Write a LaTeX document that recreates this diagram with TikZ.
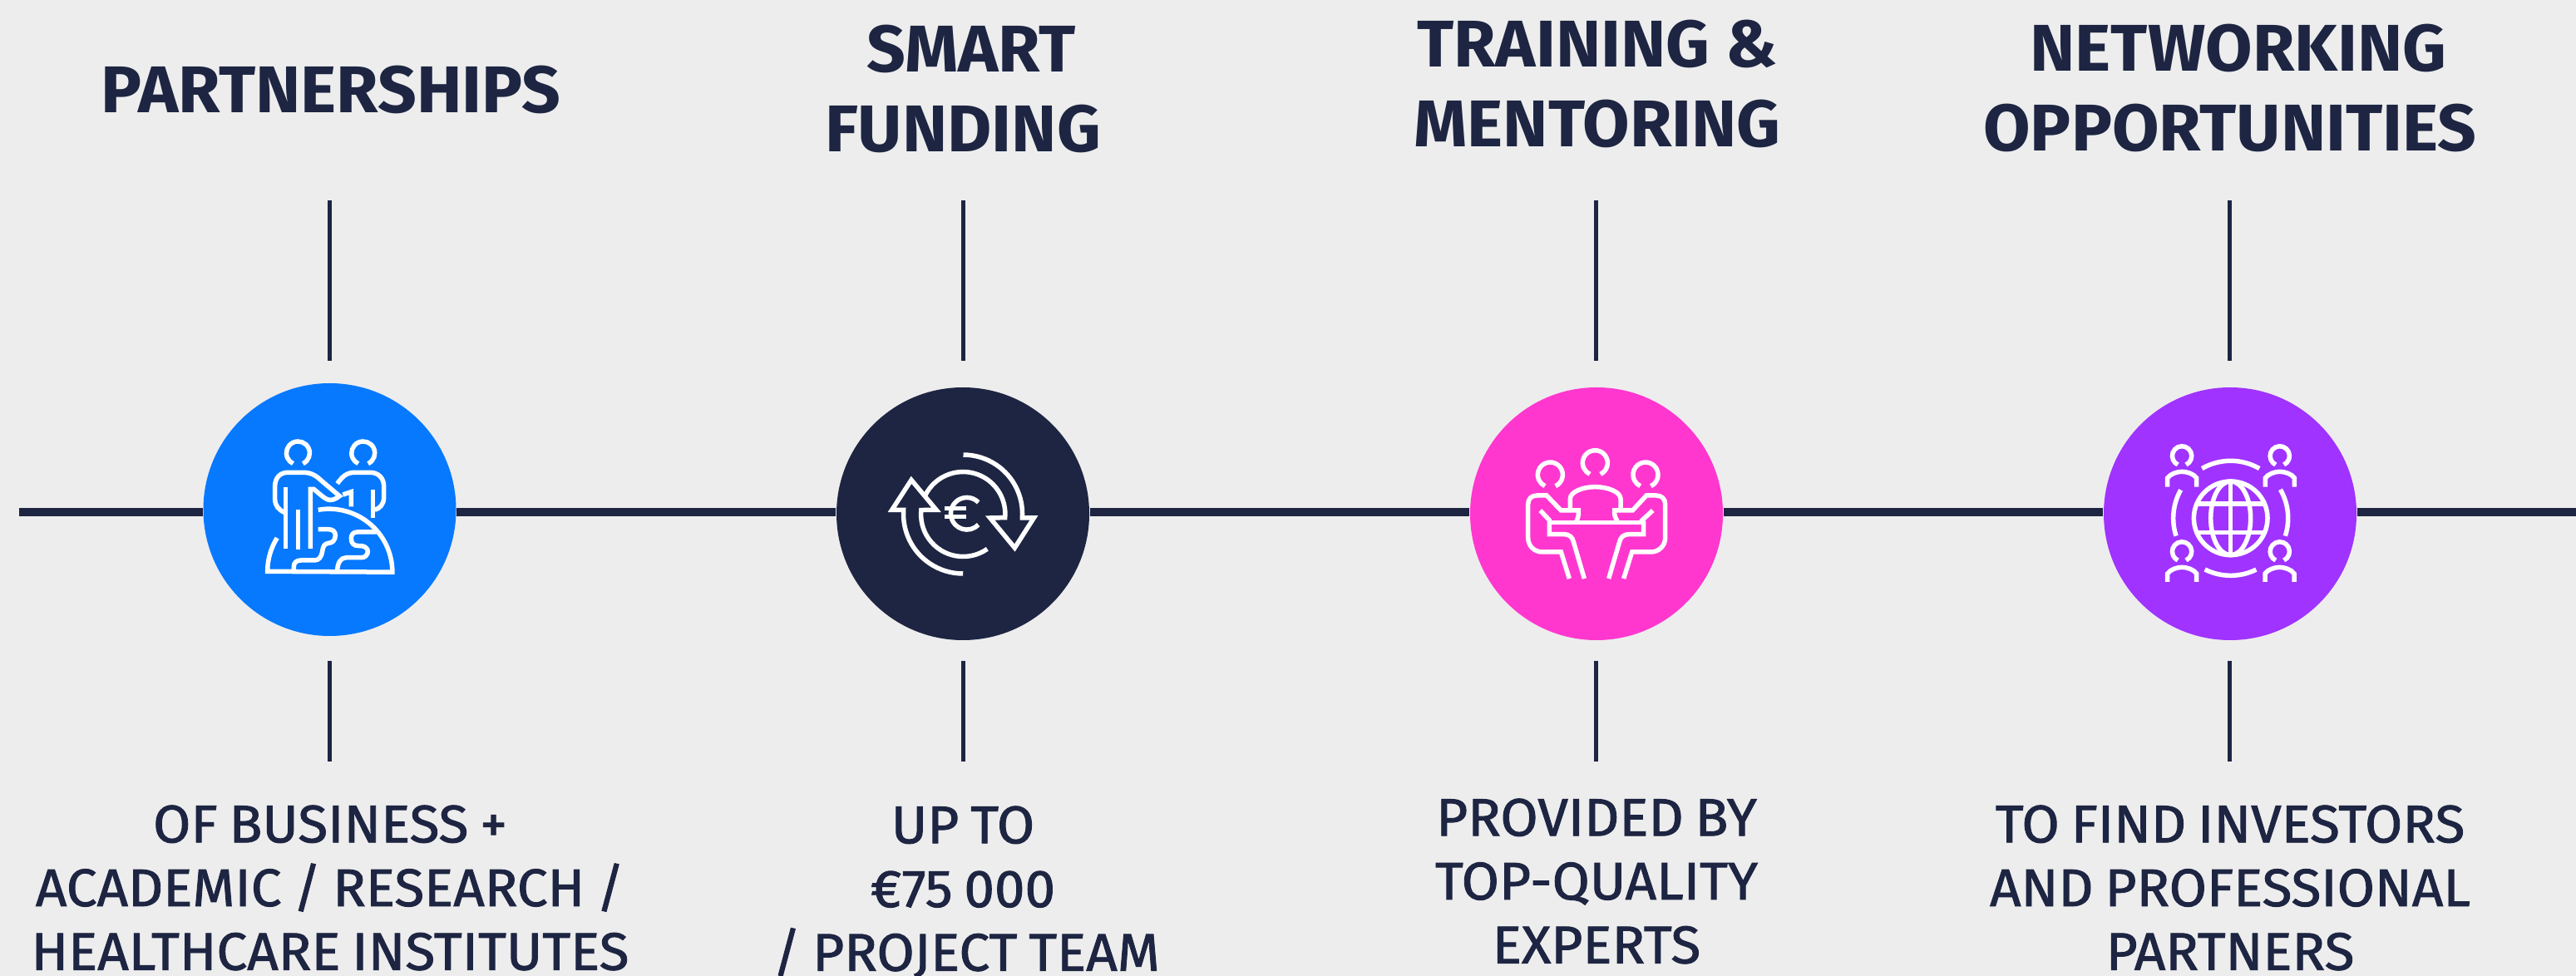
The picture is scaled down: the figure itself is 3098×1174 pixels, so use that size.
\documentclass[tikz,border=0pt]{standalone}
\usepackage{fontspec}
\newfontfamily\headfont[FakeStretch=1.03]{Fira Sans Bold}
\newfontfamily\bodyfont[FakeStretch=1.03,FakeBold=1.4,WordSpace=0.8]{Fira Sans}
\definecolor{inkblue}{HTML}{1D2542}
\definecolor{paper}{HTML}{EDEDED}
\definecolor{roundblue}{HTML}{0779FF}
\definecolor{roundpink}{HTML}{FF37CF}
\definecolor{roundviolet}{HTML}{A033FF}
\tikzset{
  round/.style={circle,minimum size=304*0.01cm,inner sep=0pt,fill=#1},
  spine/.style={draw=inkblue,line width=0.095cm},
  tick/.style={draw=inkblue,line width=0.05cm},
  headline/.style={text=inkblue,inner sep=0pt,align=center,font=\headfont\fontsize{22.6pt}{27.2pt}\selectfont},
  bodyline/.style={text=inkblue,inner sep=0pt,align=center,font=\bodyfont\fontsize{18.1pt}{21.8pt}\selectfont},
  glyph/.style={draw=white,line width=0.055cm},
  zoomed/.style={shift={#1},x=0.01cm/3,y=-0.01cm/3}
}
\begin{document}
\begin{tikzpicture}[x=0.01cm,y=-0.01cm]

\fill[paper] (0,0) rectangle (3098,1174);
\useasboundingbox (0,0) rectangle (3098,1174);

% circles
\node[round=roundblue] (round1) at (396.5,613) {};
\node[round=inkblue] (round2) at (1158,618) {};
\node[round=roundpink] (round3) at (1920,618) {};
\node[round=roundviolet] (round4) at (2682,618) {};

% spine
\coordinate (spinestart) at (23,616);
\coordinate (spineend) at (3098,616);
\draw[spine] (spinestart) -- (spinestart -| round1.west);
\draw[spine] (round1.east |- spinestart) -- (spinestart -| round2.west);
\draw[spine] (round2.east |- spinestart) -- (spinestart -| round3.west);
\draw[spine] (round3.east |- spinestart) -- (spinestart -| round4.west);
\draw[spine] (round4.east |- spinestart) -- (spineend);

% ticks
\coordinate (up1a) at (396.5,241);
\coordinate (up1b) at (396.5,434);
\coordinate (up2a) at (1158,241);
\coordinate (up2b) at (1158,434);
\coordinate (up3a) at (1919,241);
\coordinate (up3b) at (1919,434);
\coordinate (up4a) at (2681,241);
\coordinate (up4b) at (2681,434);
\coordinate (down1a) at (396.5,795);
\coordinate (down1b) at (396.5,916);
\coordinate (down2a) at (1158,795);
\coordinate (down2b) at (1158,916);
\coordinate (down3a) at (1919,795);
\coordinate (down3b) at (1919,916);
\coordinate (down4a) at (2681,795);
\coordinate (down4b) at (2681,916);
\draw[tick] (up1a) -- (up1b);
\draw[tick] (up2a) -- (up2b);
\draw[tick] (up3a) -- (up3b);
\draw[tick] (up4a) -- (up4b);
\draw[tick] (down1a) -- (down1b);
\draw[tick] (down2a) -- (down2b);
\draw[tick] (down3a) -- (down3b);
\draw[tick] (down4a) -- (down4b);

% top texts
\node[headline] (head1) at (398,108) {PARTNERSHIPS};
\node[headline] (head2) at (1158,107) {\hspace*{0.2cm}SMART\\FUNDING};
\node[headline] (head3) at (1921,101) {TRAINING \&\\MENTORING};
\node[headline] (head4) at (2682,106) {\hspace*{0.2cm}NETWORKING\\OPPORTUNITIES};

% bottom texts
\node[bodyline] (body1) at (397,1068) {OF BUSINESS +\\ACADEMIC / RESEARCH /\\HEALTHCARE INSTITUTES};
\node[bodyline] (body2) at (1158,1073) {UP TO\\€75 000\\\hspace*{0.08cm}/ PROJECT TEAM};
\node[bodyline] (body3) at (1920,1060) {PROVIDED BY\\TOP-QUALITY\\EXPERTS};
\node[bodyline] (body4) at (2682,1068) {TO FIND INVESTORS\\AND PROFESSIONAL\\PARTNERS};

% partners icon
\begin{scope}[zoomed={(240,450)}]
\draw[glyph] (373,323) arc (65:-245:42);
\draw[glyph] (608,323) arc (65:-245:42);
\draw[glyph] (308,500) .. controls (285,490) and (272,475) .. (272,450) -- (272,405) .. controls (272,375) and (290,355) .. (318,355) -- (375,355) .. controls (405,355) and (425,370) .. (440,385) -- (505,440) .. controls (490,452) and (475,458) .. (460,452) .. controls (445,445) and (425,425) .. (412,415) -- (400,415) -- (400,630);
\draw[glyph] (310,407) -- (310,630);
\draw[glyph] (355,490) -- (355,632);
\draw[glyph] (497,395) .. controls (515,370) and (530,355) .. (560,355) -- (615,355) .. controls (645,355) and (665,375) .. (665,405) -- (665,445) .. controls (665,470) and (650,485) .. (632,490);
\draw[glyph] (625,417) -- (625,520);
\draw[glyph] (517,435) -- (547,425) -- (547,478);
\draw[glyph] (428,490) arc (-100:0:228) -- (245,712) arc (180:212:228);
\draw[glyph] (428,560) -- (465,560) .. controls (482,560) and (490,570) .. (490,582) .. controls (490,600) and (478,610) .. (465,610) .. controls (450,612) and (445,622) .. (443,640) .. controls (440,660) and (430,672) .. (415,672) -- (365,672) .. controls (348,672) and (340,682) .. (340,695) -- (340,712);
\draw[glyph] (638,570) -- (568,570) .. controls (555,570) and (547,580) .. (547,592) .. controls (547,610) and (555,620) .. (575,620) -- (585,620) .. controls (600,622) and (607,632) .. (607,640) .. controls (607,652) and (597,662) .. (585,662) -- (530,662) .. controls (510,662) and (497,680) .. (497,712);
\end{scope}

% euro icon
\begin{scope}[zoomed={(1000,460)}]
\draw[glyph] (338,408) arc (206:365:152) -- (572,489) -- (661,597) -- (730,489) -- (688,489) arc (4:-90:213);
\draw[glyph] (562,601) arc (55:186:152) -- (378,460) -- (288,352) -- (218,460) -- (260,460) arc (184:90:215);
\draw[glyph] (530,433) arc (-44:-316:58);
\draw[glyph] (408,455) -- (487,455);
\draw[glyph] (408,485) -- (487,485);
\end{scope}

% table icon
\begin{scope}[zoomed={(1760,460)}]
\draw[glyph] (332,374) arc (65:-245:45);
\draw[glyph] (494,331) arc (65:-245:45);
\draw[glyph] (676,374) arc (65:-245:45);
\draw[glyph] (385,455) -- (385,420) .. controls (385,395) and (430,377) .. (475,377) .. controls (520,377) and (567,395) .. (567,420) -- (567,455);
\draw[glyph] (408,500) .. controls (415,485) and (416,475) .. (415,462) -- (352,462) -- (300,408) -- (265,408) .. controls (245,408) and (233,420) .. (233,440) -- (233,560) .. controls (233,590) and (255,612) .. (285,612) -- (352,612) -- (382,708);
\draw[glyph] (555,500) .. controls (545,485) and (544,475) .. (545,462) -- (610,462) -- (660,408) -- (695,408) .. controls (715,408) and (728,420) .. (728,440) -- (728,560) .. controls (728,590) and (705,612) .. (675,612) -- (608,612) -- (578,708);
\draw[glyph] (277,462) -- (310,497) -- (310,548) -- (360,548) .. controls (385,548) and (393,560) .. (397,575) -- (436,708);
\draw[glyph] (683,462) -- (645,497) -- (650,505) -- (650,548) -- (600,548) .. controls (575,548) and (567,560) .. (563,575) -- (524,708);
\draw[glyph] (310,505) -- (650,505);
\end{scope}

% network icon
\begin{scope}[zoomed={(2520,460)}]
\draw[glyph] (327,297) arc (65:-245:35);
\draw[glyph] (680,297) arc (65:-245:35);
\draw[glyph] (327,642) arc (65:-245:35);
\draw[glyph] (680,642) arc (65:-245:35);
\draw[glyph] (260,377) -- (260,345) .. controls (270,330) and (295,322) .. (312,322) .. controls (330,322) and (355,330) .. (365,345) -- (365,377);
\draw[glyph] (613,377) -- (613,345) .. controls (623,330) and (648,322) .. (665,322) .. controls (683,322) and (708,330) .. (718,345) -- (718,377);
\draw[glyph] (260,720) -- (260,690) .. controls (270,675) and (295,667) .. (312,667) .. controls (330,667) and (355,675) .. (365,690) -- (365,720);
\draw[glyph] (612,720) -- (612,690) .. controls (622,675) and (647,667) .. (664,667) .. controls (682,667) and (707,675) .. (717,690) -- (717,720);
\draw[glyph] (488,490) circle[radius=133];
\draw[glyph] (488,490) circle[x radius=72,y radius=133];
\draw[glyph] (488,357) -- (488,623);
\draw[glyph] (366,438) -- (610,438);
\draw[glyph] (366,542) -- (610,542);
\draw[glyph] (384.5,310.7) arc (240:300:207);
\draw[glyph] (667.3,386.5) arc (-30:18:207);
\draw[glyph] (580,675.4) arc (63.6:116.7:207);
\draw[glyph] (291.1,554) arc (162:209.5:207);
\end{scope}

\end{tikzpicture}
\end{document}
